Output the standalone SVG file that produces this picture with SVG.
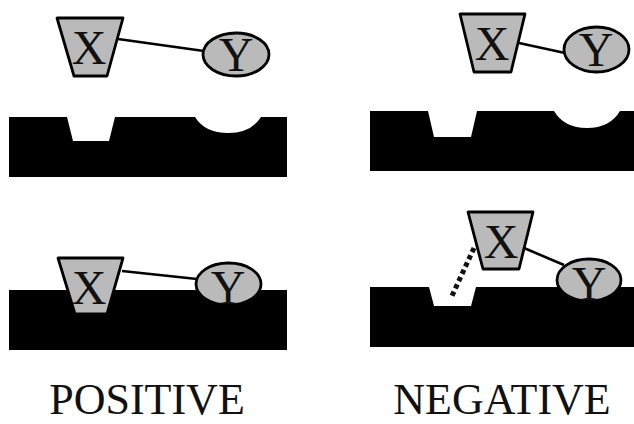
<svg xmlns="http://www.w3.org/2000/svg" width="634" height="424" viewBox="0 0 634 424">
<style>
.bar{fill:#000}
.node{fill:#bababa;stroke:#000;stroke-width:2.8;stroke-linejoin:round}
.lbl{font-family:"Liberation Serif","Times New Roman",serif;font-size:48px;fill:#111;text-anchor:middle}
.cap{font-family:"Liberation Serif","Times New Roman",serif;font-size:44px;fill:#111;text-anchor:middle}
.link{stroke:#000;stroke-width:2.6;fill:none}
.dots{stroke:#111;stroke-width:5;stroke-dasharray:4.5 3.5;fill:none}
</style>
<rect width="634" height="424" fill="#fff"/>
<g id="surface-top-left">
<path class="bar" d="M9,117 H67 L73,141 H109 L115,117 H195 Q205,133 228,133 Q251,133 261,117 H287 V177 H9 Z"/>
</g>
<g id="surface-top-right">
<path class="bar" d="M370,111 H428 L434,137 H471 L477,111 H554 Q564,128 587,128 Q610,128 620,111 H634 V171 H370 Z"/>
</g>
<g id="surface-bottom-left">
<rect class="bar" x="9" y="290" width="278" height="60"/>
</g>
<g id="surface-bottom-right">
<path class="bar" d="M370,287 H429 L434,306 H471 L476,287 H634 V347 H370 Z"/>
</g>
<g id="connectors">
<line class="link" x1="118" y1="39" x2="204" y2="51"/>
<line class="link" x1="519" y1="43" x2="565" y2="53"/>
<line class="link" x1="122" y1="271" x2="197" y2="279"/>
<line class="link" x1="524" y1="248" x2="564" y2="265"/>
<line class="dots" x1="474" y1="248" x2="451" y2="298"/>
</g>
<g id="x-top-left">
<polygon class="node" points="57,18 123,18 107,76 74,76"/>
<text class="lbl" x="89" y="64">X</text>
</g>
<g id="y-top-left">
<ellipse class="node" cx="236" cy="54.5" rx="33" ry="21.5"/>
<text class="lbl" x="236" y="71">Y</text>
</g>
<g id="x-top-right">
<polygon class="node" points="460,14 525,14 511,72 474,72"/>
<text class="lbl" x="492" y="60">X</text>
</g>
<g id="y-top-right">
<ellipse class="node" cx="596.5" cy="49.5" rx="32.5" ry="22.5"/>
<text class="lbl" x="596" y="66">Y</text>
</g>
<g id="x-bottom-left">
<polygon class="node" points="58,258 123,258 107,314 75,314"/>
<text class="lbl" x="89" y="304">X</text>
</g>
<g id="y-bottom-left">
<ellipse class="node" cx="228.5" cy="284" rx="32.5" ry="21"/>
<text class="lbl" x="228" y="304">Y</text>
</g>
<g id="x-bottom-right">
<polygon class="node" points="468,212 533,212 519,269 483,269"/>
<text class="lbl" x="501" y="258">X</text>
</g>
<g id="y-bottom-right">
<ellipse class="node" cx="589" cy="280" rx="32" ry="21"/>
<text class="lbl" x="589" y="300">Y</text>
</g>
<text class="cap" x="147" y="414">POSITIVE</text>
<text class="cap" x="502" y="414">NEGATIVE</text>
</svg>
